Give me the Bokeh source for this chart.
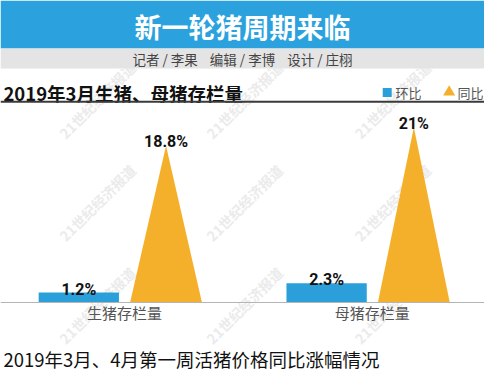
from bokeh.plotting import figure
from bokeh.models import Range1d, Span, Label, BoxAnnotation, ColumnDataSource
from bokeh.embed import file_html
from bokeh.resources import INLINE
from bokeh.core.properties import value

# ---------------- data ----------------
title = "新一轮猪周期来临"
credits = "记者\u00a0/\u00a0李果\u00a0\u00a0\u00a0\u00a0编辑\u00a0/\u00a0李博\u00a0\u00a0\u00a0\u00a0设计\u00a0/\u00a0庄栩"
subtitle1 = "2019年3月生猪、母猪存栏量"
subtitle2 = "2019年3月、4月第一周活猪价格同比涨幅情况"
watermark = "21世纪经济报道"
categories = ["生猪存栏量", "母猪存栏量"]
series = ["环比", "同比"]
mom = [1.2, 2.3]          # 环比 (%)
yoy = [18.8, 21.0]        # 同比 (%)
mom_labels = ["1.2%", "2.3%"]
yoy_labels = ["18.8%", "21%"]

# ---------------- style ----------------
BLUE = "#2a9fda"
ORANGE = "#f5b02b"
GRAYBAND = "#e4e4e4"
CJK = "Noto Sans CJK SC"
NUMFONT = "Roboto"

W, H = 484, 372
REF_W, REF_H = 500, 388
BASE_Y = 315.0      # baseline position in layout units
PX_PER_PCT = 8.7    # layout units per percent
GROUP_W = 256.0     # layout units per category

p = figure(width=W, height=H, output_backend="svg", toolbar_location=None,
           x_range=Range1d(0, REF_W), y_range=Range1d(REF_H, 0),
           x_axis_location=None, y_axis_location=None, min_border=0,
           outline_line_color=None, background_fill_color="white")
p.grid.visible = False

p.extra_x_ranges = {"cat": Range1d(0, REF_W / GROUP_W)}
p.extra_y_ranges = {"pct": Range1d((BASE_Y - REF_H) / PX_PER_PCT, BASE_Y / PX_PER_PCT)}

# faint diagonal watermarks (drawn first, underneath everything)
wm_x, wm_y = [], []
for cx in (100, 252, 405):
    for cy in (104, 211, 318):
        wm_x.append(cx)
        wm_y.append(cy)
p.text(x=wm_x, y=wm_y, text=[watermark] * len(wm_x), angle=0.785,
       text_align="center", text_baseline="middle", text_font=value(CJK),
       text_font_size="14px", text_color="#ebebeb", text_font_style="bold")

# header bands
p.add_layout(BoxAnnotation(left=0, right=REF_W, top=0, bottom=50, fill_color="#2ba2dd",
                           fill_alpha=1, line_color=None))
p.add_layout(BoxAnnotation(left=0, right=REF_W, top=50, bottom=71, fill_color=GRAYBAND,
                           fill_alpha=1, line_color=None))

p.add_layout(Label(x=250, y=27, text=title, text_align="center", text_baseline="middle",
                   text_color="white", text_font=CJK, text_font_style="bold",
                   text_font_size="27px"))
p.add_layout(Label(x=250, y=61, text=credits, text_align="center", text_baseline="middle",
                   text_color="#444444", text_font=CJK, text_font_size="13.5px"))

# subtitle 1 + underline
p.add_layout(Label(x=3, y=96, text=subtitle1, text_align="left", text_baseline="middle",
                   text_color="#111111", text_font=CJK, text_font_style="bold",
                   text_font_size="18.5px"))
p.add_layout(Span(location=105.5, dimension="width", line_color="#3a3a3a", line_width=2))

# legend
p.scatter(x=[399.5], y=[96], marker="square", size=9, fill_color=BLUE, line_color=None)
p.add_layout(Label(x=408, y=96, text=series[0], text_align="left", text_baseline="middle",
                   text_color="#555555", text_font=CJK, text_font_size="13px"))
p.scatter(x=[463.5], y=[95.5], marker="triangle", size=12, fill_color=ORANGE, line_color=None)
p.add_layout(Label(x=472, y=96, text=series[1], text_align="left", text_baseline="middle",
                   text_color="#555555", text_font=CJK, text_font_size="13px"))

# ---------------- chart ----------------
centers = [i + 0.5 for i in range(len(categories))]
mom_x = [c - 0.184 for c in centers]
yoy_x = [c + 0.168 for c in centers]
half_base = 0.145

p.add_layout(Span(location=0, dimension="width", y_range_name="pct",
                  line_color="#b5b5b5", line_width=1))

src_mom = ColumnDataSource(dict(x=mom_x, top=mom, label=mom_labels))
p.vbar(x="x", top="top", bottom=0, width=0.324, source=src_mom,
       x_range_name="cat", y_range_name="pct", fill_color=BLUE, line_color=None)

tri_xs = [[x - half_base, x, x + half_base] for x in yoy_x]
tri_ys = [[0, v, 0] for v in yoy]
p.patches(xs=tri_xs, ys=tri_ys, x_range_name="cat", y_range_name="pct",
          fill_color=ORANGE, line_color=None)

p.text(x="x", y="top", text="label", source=src_mom, x_range_name="cat", y_range_name="pct",
       text_align="center", text_baseline="alphabetic", y_offset=-3.5,
       text_font=value(NUMFONT), text_font_style="bold", text_font_size="16px",
       text_color="#111111")
src_yoy = ColumnDataSource(dict(x=yoy_x, top=yoy, label=yoy_labels))
p.text(x="x", y="top", text="label", source=src_yoy, x_range_name="cat", y_range_name="pct",
       text_align="center", text_baseline="alphabetic", y_offset=-4,
       text_font=value(NUMFONT), text_font_style="bold", text_font_size="16px",
       text_color="#111111")

# category labels
p.text(x=centers, y=[0] * len(categories), text=categories, x_range_name="cat",
       y_range_name="pct", text_align="center", text_baseline="middle", y_offset=10,
       text_font=value(CJK), text_font_size="15px", text_color="#555555")

# subtitle 2
p.add_layout(Label(x=3, y=374, text=subtitle2, text_align="left", text_baseline="middle",
                   text_color="#111111", text_font=CJK, text_font_size="18.5px"))

open("out.html", "w").write(file_html(p, INLINE))
